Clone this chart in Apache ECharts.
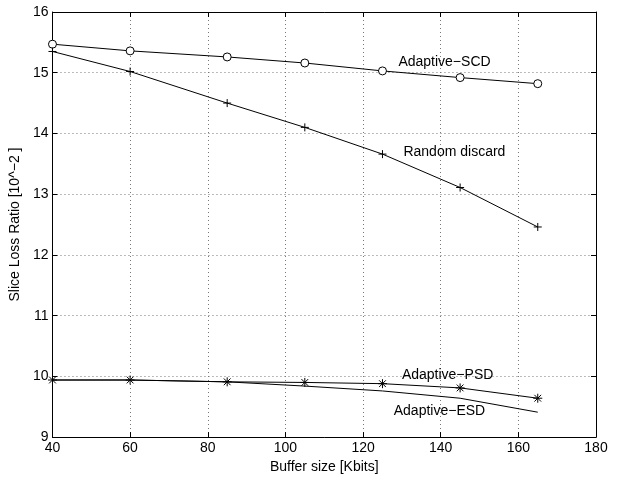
<!DOCTYPE html>
<html><head><meta charset="utf-8">
<script src="https://cdn.jsdelivr.net/npm/echarts@6/dist/echarts.min.js"></script>
<style>html,body{margin:0;padding:0;background:#fff}#c{width:621px;height:479px}</style>
</head><body><div id="c"></div>
<script>
const bufferSizes = [40, 60, 85, 105, 125, 145, 165];
const adaptiveSCD = [15.47, 15.36, 15.26, 15.16, 15.03, 14.92, 14.82];
const randomDiscard = [15.35, 15.02, 14.50, 14.10, 13.66, 13.11, 12.46];
const adaptivePSD = [9.94, 9.94, 9.91, 9.90, 9.88, 9.81, 9.64];
const adaptiveESD = [9.94, 9.94, 9.91, 9.84, 9.76, 9.64, 9.41];
const seriesNames = ['Adaptive\u2212SCD', 'Random discard', 'Adaptive\u2212PSD', 'Adaptive\u2212ESD'];

const FONT = 'Liberation Sans, Arial, sans-serif';
const pairs = a => bufferSizes.map((x, i) => [x, a[i]]);
const PLUS = 'path://M0,-1L0,1M-1,0L1,0';
const STAR = 'path://M0,-1L0,1M-1,0L1,0M-0.75,-0.75L0.75,0.75M-0.75,0.75L0.75,-0.75';

const chart = echarts.init(document.getElementById('c'), null, {renderer: 'canvas'});
const axisCommon = {
  axisLine: {show: true, onZero: false, lineStyle: {color: '#000', width: 1}},
  axisTick: {show: true, inside: true, length: 5, lineStyle: {color: '#000'}},
  axisLabel: {color: '#000', fontFamily: FONT, fontSize: 14},
};
const gridLine = {show: true, lineStyle: {color: '#777', type: [1, 3], width: 1}};
const lineSeries = (name, data, symbol, size, fill) => ({
  name, type: 'line', data: pairs(data), symbol, symbolSize: size,
  showSymbol: symbol !== 'none',
  lineStyle: {color: '#000', width: 1},
  itemStyle: {color: fill, borderColor: '#000', borderWidth: 1},
  emphasis: {disabled: true}, animation: false, z: 3
});
chart.setOption({
  animation: false,
  grid: {left: 51, right: 25, top: 12, bottom: 38},
  xAxis: [
    Object.assign({}, axisCommon, {type: 'value', min: 40, max: 180, interval: 20,
      position: 'bottom', name: 'Buffer size [Kbits]', nameLocation: 'middle', nameGap: 19,
      nameTextStyle: {color: '#000', fontFamily: FONT, fontSize: 14},
      axisLabel: Object.assign({}, axisCommon.axisLabel, {margin: 4}),
      splitLine: gridLine}),
    Object.assign({}, axisCommon, {type: 'value', min: 40, max: 180, interval: 20,
      position: 'top', axisLabel: {show: false}, splitLine: {show: false}})
  ],
  yAxis: [
    Object.assign({}, axisCommon, {type: 'value', min: 9, max: 16, interval: 1,
      position: 'left', name: 'Slice Loss Ratio [10^\u22122 ]', nameLocation: 'middle', nameGap: 24,
      nameTextStyle: {color: '#000', fontFamily: FONT, fontSize: 14},
      axisLabel: Object.assign({}, axisCommon.axisLabel, {margin: 4}),
      splitLine: gridLine}),
    Object.assign({}, axisCommon, {type: 'value', min: 9, max: 16, interval: 1,
      position: 'right', axisLabel: {show: false}, splitLine: {show: false}})
  ],
  series: [
    lineSeries(seriesNames[0], adaptiveSCD, 'circle', 8, '#fff'),
    lineSeries(seriesNames[1], randomDiscard, PLUS, 8, 'rgba(0,0,0,0)'),
    lineSeries(seriesNames[2], adaptivePSD, STAR, 9, 'rgba(0,0,0,0)'),
    lineSeries(seriesNames[3], adaptiveESD, 'none', 0, '#000')
  ]
});

// annotation anchors (left edge, vertical centre) in data units
const labelAnchors = [[129.1, 15.18], [130.4, 13.70], [130.0, 10.02], [127.9, 9.42]];
const graphics = labelAnchors.map((a, i) => {
  const p = chart.convertToPixel({gridIndex: 0}, a);
  return {type: 'text', x: p[0], y: p[1], z: 10,
    style: {text: seriesNames[i], fill: '#000', font: '14px ' + FONT, textAlign: 'left', textVerticalAlign: 'middle'}};
});
chart.setOption({graphic: graphics});
</script></body></html>
